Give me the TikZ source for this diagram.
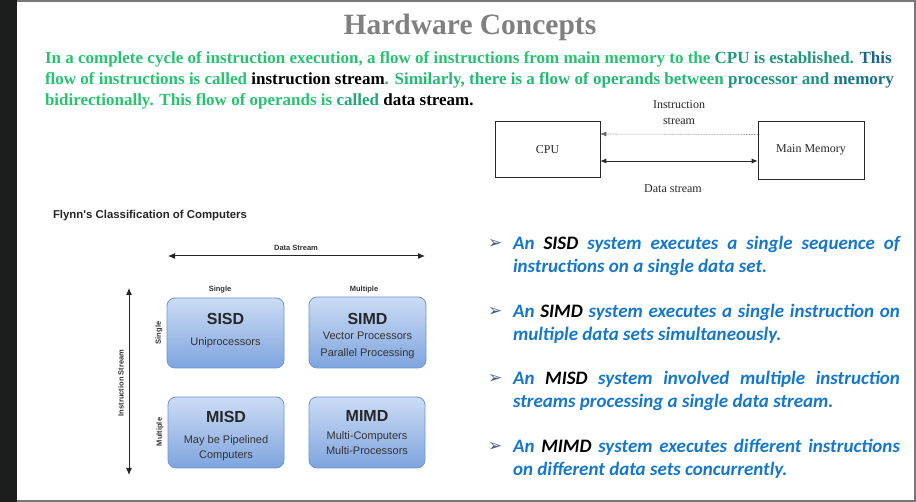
\documentclass[tikz,border=0pt]{standalone}
\usepackage{fontspec}
\setmainfont{Liberation Serif}
\newfontfamily\arialfont{Liberation Sans}
\newfontfamily\calibfont{Carlito}
\newfontfamily\symfont{DejaVu Sans}
\usetikzlibrary{arrows.meta}

\definecolor{framedark}{RGB}{28,30,30}
\definecolor{framegray}{RGB}{120,120,120}
\definecolor{titlegray}{RGB}{128,128,128}
\definecolor{txtgreen}{RGB}{38,196,112}
\definecolor{txtteal}{RGB}{24,100,140}
\definecolor{bulletblue}{RGB}{22,120,205}
\definecolor{arrowgray}{RGB}{70,95,130}
\definecolor{boxtop}{RGB}{204,220,245}
\definecolor{boxbot}{RGB}{126,164,222}
\definecolor{boxedge}{RGB}{110,150,210}
\definecolor{linegray}{RGB}{40,40,40}

\tikzset{
  plain/.style={inner sep=0pt, outer sep=0pt},
  paraline/.style={plain, anchor=base west, font=\bfseries\fontsize{17}{20}\selectfont},
  memblock/.style={draw=linegray, line width=0.6pt, font=\fontsize{12}{14}\selectfont, text=linegray},
  memlabel/.style={plain, anchor=base, font=\fontsize{12}{14}\selectfont, text=linegray},
  flynnbox/.style={draw=boxedge, line width=0.8pt, rounded corners=8pt,
                   top color=boxtop, bottom color=boxbot},
  boxtitle/.style={plain, anchor=base, font=\arialfont\bfseries\fontsize{16}{18}\selectfont, text=black!85},
  boxsub/.style={plain, anchor=base, font=\arialfont\fontsize{11}{13}\selectfont, text=black!80},
  axislabel/.style={plain, font=\arialfont\bfseries\fontsize{7.5}{9}\selectfont, text=black!80},
  axisarrow/.style={{Latex[length=7pt,width=6pt]}-{Latex[length=7pt,width=6pt]}, line width=1pt, black!85},
  bulletmark/.style={plain, anchor=base west, font=\symfont\fontsize{17}{19}\selectfont, text=arrowgray},
  bullettext/.style={plain, anchor=base west, text width=387pt, align=justify,
                     font=\calibfont\bfseries\itshape\fontsize{19}{22.5}\selectfont, text=bulletblue}
}

\begin{document}
\begin{tikzpicture}[x=1pt, y=-1pt]
  \useasboundingbox (0,0) rectangle (916,502);
  % slide frame
  \fill[white] (0,0) rectangle (916,502);
  \fill[framegray] (0,0) rectangle (916,2.5);
  \fill[framegray] (0,499.5) rectangle (916,502);
  \fill[framegray] (913.5,0) rectangle (916,502);
  \fill[framedark] (0,0) rectangle (17,502);

  % heading
  \node[plain, anchor=base, font=\bfseries\fontsize{29.5}{33}\selectfont, text=titlegray]
    (title) at (470,35) {Hardware Concepts};

  % introductory paragraph
  \node[paraline] (p1) at (45,63.5) {%
    \textcolor{txtgreen}{In a complete cycle of instruction execution, a flow of instructions from main memory to the}
    \textcolor{txtgreen!55!txtteal}{CPU is established.}
    \textcolor{txtteal}{This}};
  \node[paraline] (p2) at (45,85) {%
    \textcolor{txtgreen}{flow of instructions is called}
    \textcolor{black}{instruction stream}\textcolor{txtgreen!90!txtteal}{. Similarly, there is a flow of operands between}
    \textcolor{txtgreen!50!txtteal}{processor and}
    \textcolor{txtteal!85!txtgreen}{memory}};
  \node[paraline] (p3) at (45,106) {%
    \textcolor{txtgreen}{bidirectionally. This flow of operands is}
    \textcolor{txtgreen!70!txtteal}{called}
    \textcolor{black}{data stream.}};

  % CPU and main memory
  \node[memblock, minimum width=105pt, minimum height=56pt] (cpu) at (547.5,149.5) {CPU};
  \node[memblock, minimum width=106pt, minimum height=58pt] (mem) at (811,150) {Main Memory};
  \draw[linegray!70, line width=0.6pt, densely dotted, -{Latex[length=6pt,width=5pt]}]
    ([yshift=15.5pt]mem.west) -- ([yshift=15.5pt]cpu.east);
  \draw[linegray, line width=0.8pt, {Latex[length=6pt,width=5pt]}-{Latex[length=6pt,width=5pt]}]
    ([yshift=-11.5pt]cpu.east) -- ([yshift=-11pt]mem.west);
  \node[memlabel] (is1) at (679,109) {Instruction};
  \node[memlabel] (is2) at (679,125) {stream};
  \node[memlabel] (ds) at (673,193) {Data stream};

  % Flynn's classification
  \node[plain, anchor=base west, font=\arialfont\bfseries\fontsize{11.4}{13}\selectfont, text=black!85]
    (flynn) at (53,219) {Flynn's Classification of Computers};

  \coordinate (dsl) at (168,256);
  \coordinate (dsr) at (425,256);
  \draw[axisarrow] (dsl) -- (dsr);
  \node[axislabel, anchor=base] (dslabel) at (296,251) {Data Stream};

  \coordinate (ist) at (129,288);
  \coordinate (isb) at (129,475);
  \draw[axisarrow] (ist) -- (isb);
  \node[axislabel, rotate=90] (islabel) at (121,383) {Instruction Stream};

  \node[axislabel, anchor=base] (colsingle) at (220,292) {Single};
  \node[axislabel, anchor=base] (colmulti) at (364,292) {Multiple};
  \node[axislabel, rotate=90] (rowsingle) at (159,333) {Single};
  \node[axislabel, rotate=90] (rowmulti) at (160,432) {Multiple};

  \node[flynnbox, minimum width=117pt, minimum height=70pt] (sisd) at (225.5,333) {};
  \node[flynnbox, minimum width=117pt, minimum height=71pt] (simd) at (367.5,332.5) {};
  \node[flynnbox, minimum width=116pt, minimum height=71pt] (misd) at (226,432.5) {};
  \node[flynnbox, minimum width=116pt, minimum height=71pt] (mimd) at (367,432.5) {};

  \node[boxtitle] (sisdt) at (225.5,325) {SISD};
  \node[boxsub] (sisds) at (225.5,346) {Uniprocessors};
  \node[boxtitle] (simdt) at (367.5,325) {SIMD};
  \node[boxsub] (simds1) at (367.5,340) {Vector Processors};
  \node[boxsub] (simds2) at (367.5,357) {Parallel Processing};
  \node[boxtitle] (misdt) at (226,423) {MISD};
  \node[boxsub] (misds1) at (226,444) {May be Pipelined};
  \node[boxsub] (misds2) at (226,459) {Computers};
  \node[boxtitle] (mimdt) at (367,422) {MIMD};
  \node[boxsub] (mimds1) at (367,440) {Multi-Computers};
  \node[boxsub] (mimds2) at (367,455) {Multi-Processors};

  % bullet list
  \node[bulletmark] (b1) at (488,249) {➢};
  \node[bullettext] (t1) at (513,250) {An \textcolor{black}{SISD} system executes a single sequence of\linebreak instructions on a single data set.};
  \node[bulletmark] (b2) at (488,317) {➢};
  \node[bullettext] (t2) at (513,318) {An \textcolor{black}{SIMD} system executes a single instruction on\linebreak multiple data sets simultaneously.};
  \node[bulletmark] (b3) at (488,384) {➢};
  \node[bullettext] (t3) at (513,385) {An \textcolor{black}{MISD} system involved multiple instruction\linebreak streams processing a single data stream.};
  \node[bulletmark] (b4) at (488,452) {➢};
  \node[bullettext] (t4) at (513,453) {An \textcolor{black}{MIMD} system executes different instructions\linebreak on different data sets concurrently.};
\end{tikzpicture}
\end{document}
